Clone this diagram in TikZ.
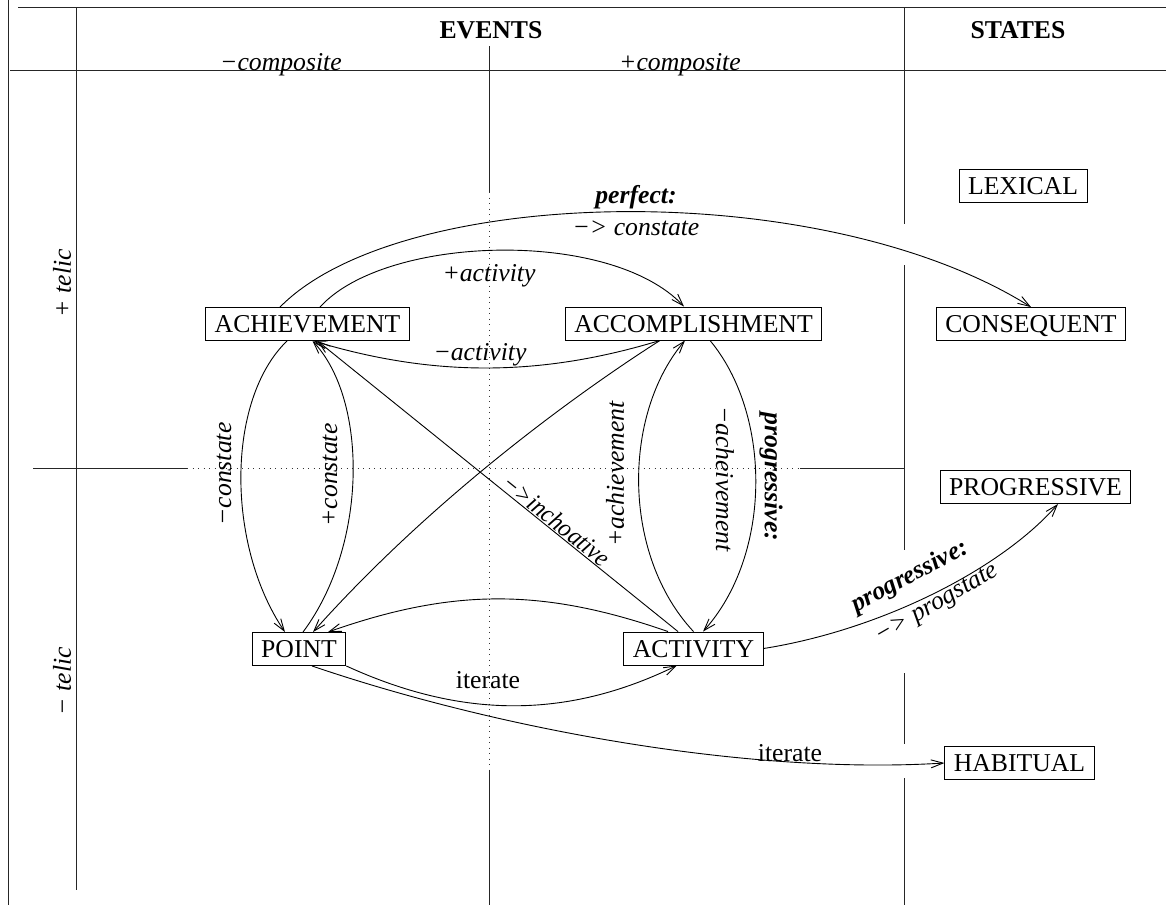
\documentclass[tikz,border=0pt]{standalone}
\usepackage{fontspec}
\setmainfont{Liberation Serif}
\usetikzlibrary{arrows.meta}
\begin{document}
\begin{tikzpicture}[x=1pt,y=-1pt,
  font=\fontsize{25.7pt}{30pt}\selectfont,
  line width=0.9pt,
  box/.style={draw, inner xsep=9pt, inner ysep=0pt, text height=17pt, text depth=0pt, minimum height=33pt},
  arr/.style={-{Straight Barb[length=12pt,width=8pt]}},
  rarr/.style={{Straight Barb[length=12pt,width=8pt]}-},
  frame/.style={line width=1pt, black!85},
  dots/.style={line width=1pt, black!80, dash pattern=on 1pt off 4.5pt},
  lab/.style={font=\fontsize{25.7pt}{30pt}\selectfont\itshape, inner sep=0pt},
  blab/.style={font=\fontsize{25.7pt}{30pt}\selectfont\bfseries\itshape, inner sep=0pt},
  rlab/.style={inner sep=0pt},
  head/.style={font=\fontsize{25.7pt}{30pt}\selectfont\bfseries, inner sep=0pt}]
\useasboundingbox (0,0) rectangle (1166,916);

% frame
\draw[frame] (8,0) -- (8,905);
\draw[frame] (76,7) -- (76,890);
\draw[frame] (18,7) -- (1166,7);
\draw[frame] (10,70) -- (1166,70);
\draw[frame] (489,46) -- (489,192);
\draw[dots] (489,192) -- (489,770);
\draw[frame] (489,770) -- (489,905);
\draw[frame] (904,7) -- (904,224);
\draw[frame] (904,265) -- (904,550);
\draw[frame] (904,673) -- (904,744);
\draw[frame] (904,778) -- (904,905);
\draw[frame] (33,468) -- (187,468);
\draw[dots] (187,468) -- (800,468);
\draw[frame] (800,468) -- (904,468);

% headers
\node[head, anchor=base] (events) at (491,38) {EVENTS};
\node[head, anchor=base] (states) at (1018,38) {STATES};
\node[lab, anchor=base] (mcomp) at (281,70) {−composite};
\node[lab, anchor=base] (pcomp) at (680,70) {+composite};
\node[lab, rotate=90] (ptelic) at (62,283) {+ telic};
\node[lab, rotate=90] (mtelic) at (62,681) {− telic};

% nodes
\node[box] (ach) at (307.5,324) {ACHIEVEMENT};
\node[box] (acc) at (693.5,323.5) {ACCOMPLISHMENT};
\node[box] (lex) at (1023,185.5) {LEXICAL};
\node[box] (con) at (1031,324) {CONSEQUENT};
\node[box] (prog) at (1035.5,487) {PROGRESSIVE};
\node[box] (pt) at (299,649) {POINT};
\node[box] (act) at (693.5,648.5) {ACTIVITY};
\node[box] (hab) at (1019.5,763) {HABITUAL};

% perfect
\draw[arr] ([xshift=-27.5pt]ach.north) .. controls (400,185) and (820,175) .. (con.north);
\node[blab] (perf) at (636,197) {perfect:};
\node[lab] (perfc) at (636,228) {−> constate};

% +activity / -activity
\draw[arr] ([xshift=12.5pt]ach.north) .. controls (385,235) and (610,228) .. ([xshift=-9.5pt]acc.north);
\node[lab] (pact) at (489,276) {+activity};
\draw[arr] ([xshift=-33.5pt]acc.south) .. controls (540,377) and (433,377) .. ([xshift=6pt]ach.south);
\node[lab] (mact) at (480,355) {−activity};

% accomplishment -> point
\draw[arr] ([xshift=-33.5pt]acc.south) .. controls (590,385) and (440,490) .. ([xshift=14pt]pt.north);

% inchoative
\draw[rarr] ([xshift=10pt]ach.south) -- ([xshift=-15.5pt]act.north)
  node[lab, pos=0.645, sloped, above, inner sep=1pt, xscale=0.92] (inch) {−>inchoative};

% constate lens
\draw[arr] ([xshift=-20.5pt]ach.south) .. controls (226,400) and (226,545) .. ([xshift=-14pt]pt.north);
\node[lab, rotate=90] (mcon) at (224,474) {−constate};
\draw[arr] ([xshift=4pt]pt.north) .. controls (368,545) and (368,400) .. ([xshift=5pt]ach.south);
\node[lab, rotate=90] (pcon) at (330,475) {+constate};

% activity -> point
\draw[arr] ([xshift=-25.5pt]act.north) .. controls (543,588) and (453,588) .. ([xshift=29pt]pt.north);

% iterate
\draw[arr] (pt.south east) .. controls (462,719) and (567,719) .. ([xshift=-16.5pt]act.south);
\node[rlab] (it1) at (488,680) {iterate};
\draw[arr] ([xshift=13pt]pt.south) .. controls (500,730) and (750,775) .. (hab.west);
\node[rlab] (it2) at (790,753) {iterate};

% achievement lens
\draw[arr] (act.north) .. controls (622,555) and (622,415) .. ([xshift=-8.5pt]acc.south);
\node[lab, rotate=90] (pach) at (615,474) {+achievement};
\draw[arr] ([xshift=16.5pt]acc.south) .. controls (772,415) and (772,555) .. ([xshift=9.5pt]act.north);
\node[lab, rotate=-90] (mach) at (725,479) {−acheivement};
\node[blab, rotate=-90] (progv) at (771,477) {progressive:};

% progressive
\draw[arr] (act.east) .. controls (880,630) and (1000,570) .. ([xshift=22.5pt]prog.south);
\node[blab, rotate=28] (progl) at (910,577) {progressive:};
\node[lab, rotate=30] (progs) at (938,605) {−> progstate};
\end{tikzpicture}
\end{document}
